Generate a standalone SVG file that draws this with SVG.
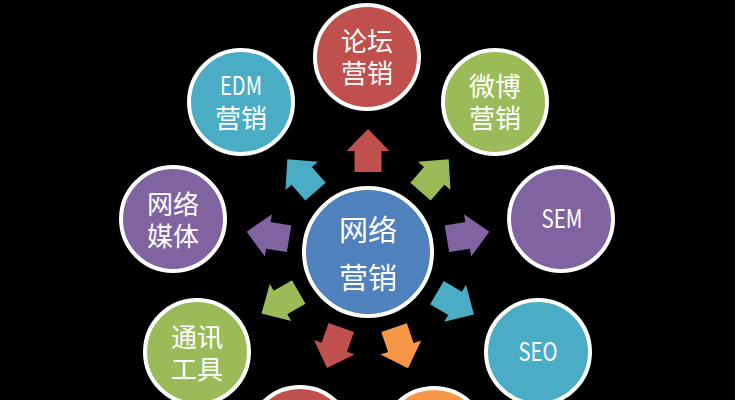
<svg xmlns="http://www.w3.org/2000/svg" width="735" height="400" viewBox="0 0 735 400">
<defs>
<style>
.node{stroke:#ffffff;stroke-width:4}
.txt{fill:#ffffff;font-family:"Noto Sans CJK SC","Noto Sans",sans-serif;font-size:26px;text-anchor:middle}
.big{font-size:29px}
.red{fill:#C0504D}.blue{fill:#4BACC6}.green{fill:#9BBB59}.purple{fill:#8064A2}.orange{fill:#F79646}.center{fill:#4F81BD}
</style>
<path id="arr" d="M80,-13.5 L101,-13.5 L101,-21.5 L123,0 L101,21.5 L101,13.5 L80,13.5 Z"/>
</defs>
<rect width="735" height="400" fill="#000000"/>
<g id="connectors" transform="translate(368,252)">
<use href="#arr" class="red" transform="rotate(-90)"/>
<use href="#arr" class="blue" transform="rotate(-131)"/>
<use href="#arr" class="green" transform="rotate(-49)"/>
<use href="#arr" class="purple" transform="rotate(-170.5)"/>
<use href="#arr" class="purple" transform="rotate(-9.5)"/>
<use href="#arr" class="green" transform="rotate(150)"/>
<use href="#arr" class="blue" transform="rotate(30.5)"/>
<use href="#arr" class="red" transform="rotate(109.5)"/>
<use href="#arr" class="orange" transform="rotate(71)"/>
</g>
<g id="center">
<circle class="node center" cx="368" cy="252" r="64"/>
<text class="txt big" x="368" y="241">网络<tspan x="368" y="289">营销</tspan></text>
</g>
<g id="luntan">
<circle class="node red" cx="367" cy="57" r="52"/>
<text class="txt" x="367" y="51">论坛<tspan x="367" y="83">营销</tspan></text>
</g>
<g id="edm">
<circle class="node blue" cx="241" cy="102" r="52"/>
<text class="txt" x="241" y="95"><tspan textLength="42" lengthAdjust="spacingAndGlyphs">EDM</tspan><tspan x="241" y="128">营销</tspan></text>
</g>
<g id="weibo">
<circle class="node green" cx="495" cy="102" r="52"/>
<text class="txt" x="495" y="96">微博<tspan x="495" y="128">营销</tspan></text>
</g>
<g id="wangluomeiti">
<circle class="node purple" cx="173" cy="219" r="52"/>
<text class="txt" x="173" y="214">网络<tspan x="173" y="246">媒体</tspan></text>
</g>
<g id="sem">
<circle class="node purple" cx="561" cy="219" r="52"/>
<text class="txt" x="562" y="228" textLength="41" lengthAdjust="spacingAndGlyphs">SEM</text>
</g>
<g id="tongxun">
<circle class="node green" cx="197" cy="352" r="52"/>
<text class="txt" x="197" y="347">通讯<tspan x="197" y="379">工具</tspan></text>
</g>
<g id="seo">
<circle class="node blue" cx="538" cy="352" r="52"/>
<text class="txt" x="538" y="361" textLength="39" lengthAdjust="spacingAndGlyphs">SEO</text>
</g>
<g id="bottom-red">
<circle class="node red" cx="300" cy="439" r="52"/>
</g>
<g id="bottom-orange">
<circle class="node orange" cx="434" cy="440" r="52"/>
</g>
</svg>
